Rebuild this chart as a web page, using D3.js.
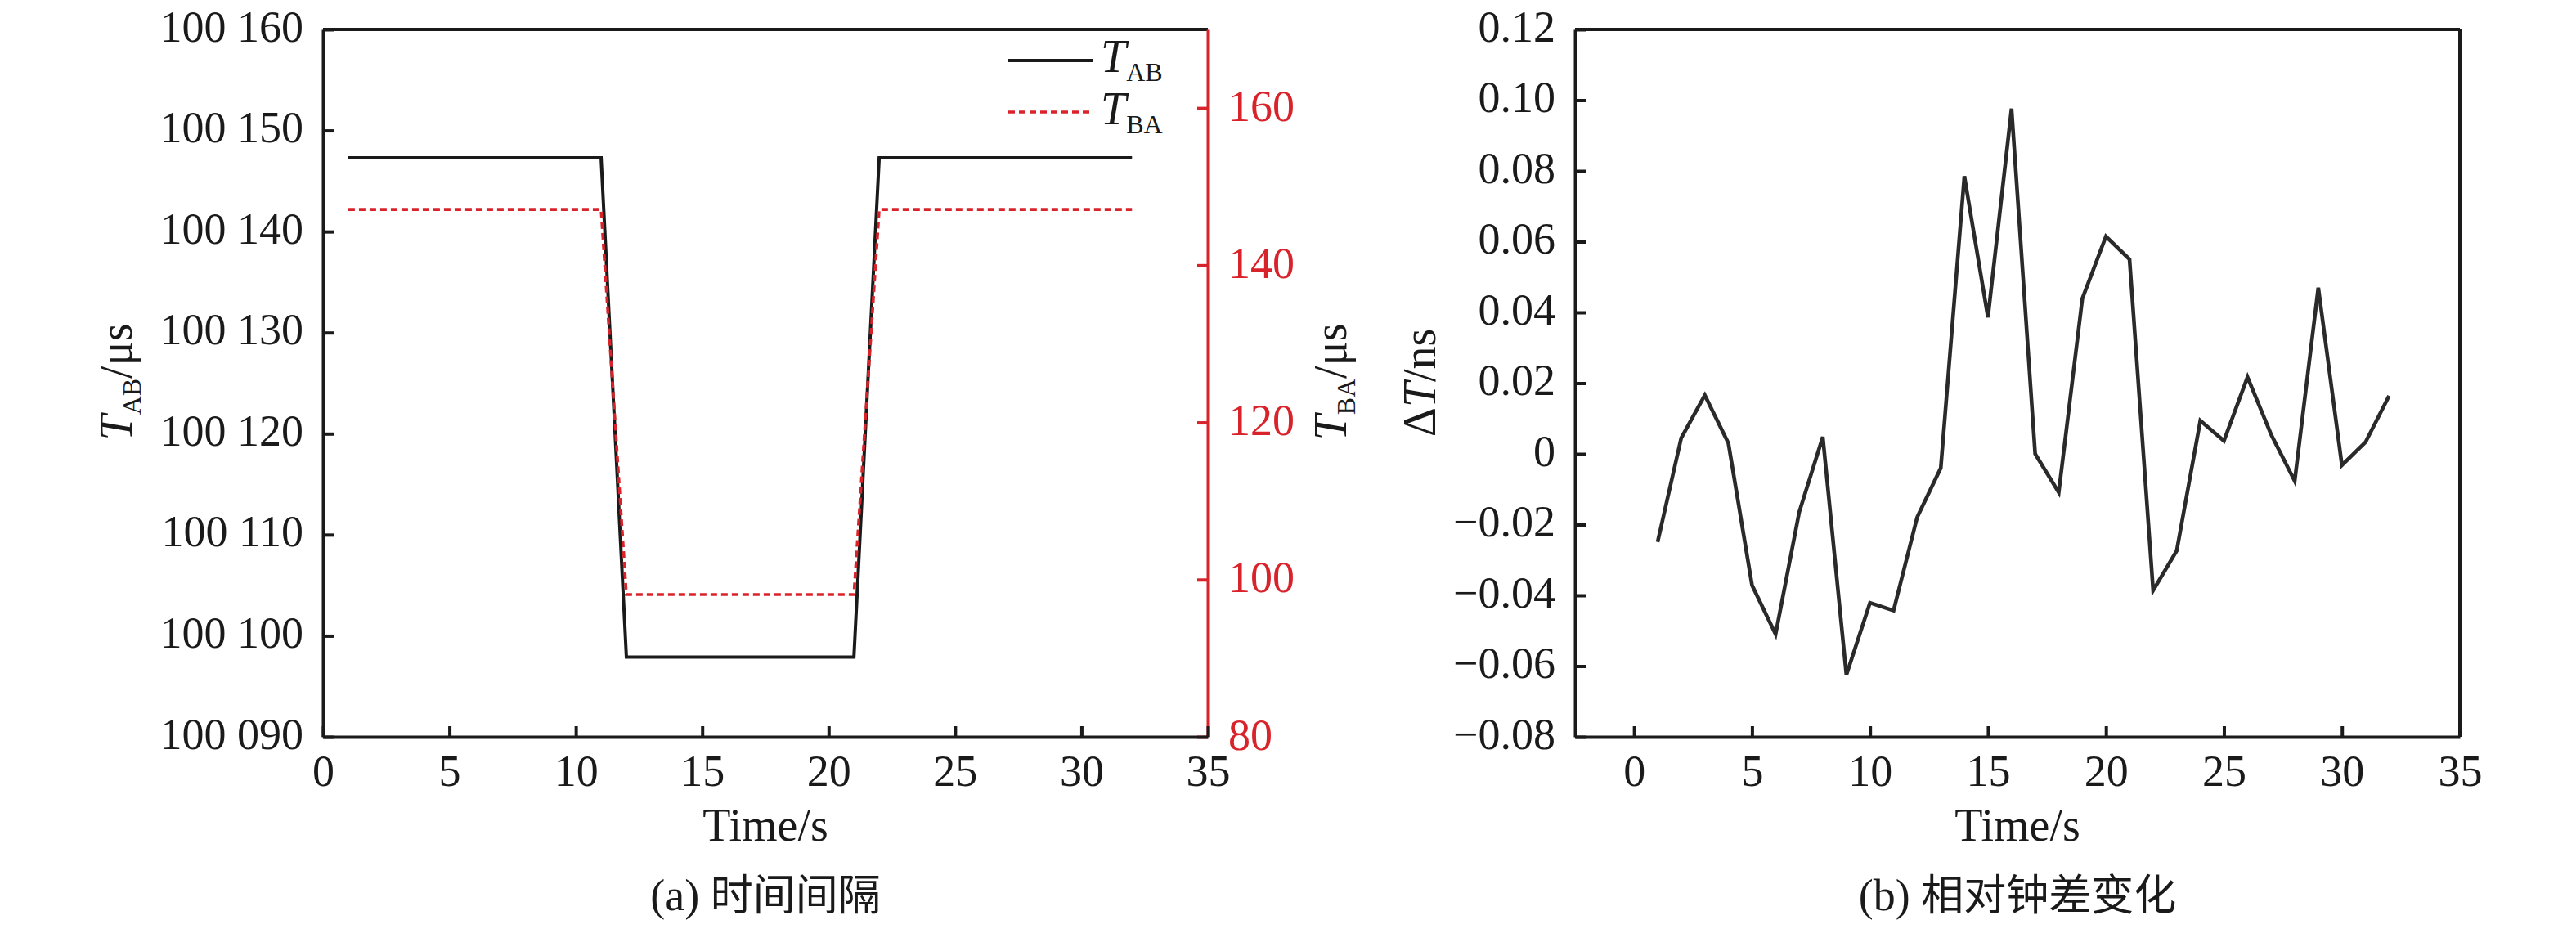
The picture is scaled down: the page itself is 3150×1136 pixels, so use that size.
<!DOCTYPE html>
<html>
<head>
<meta charset="utf-8">
<script src="https://cdn.jsdelivr.net/npm/d3@7"></script>
<style>
  html, body { margin: 0; padding: 0; background: #fff; }
  svg { display: block; }
  text { font-family: "Liberation Serif", "Times New Roman", serif; }
</style>
</head>
<body>
<svg id="chart" width="3150" height="1136"></svg>
<script>
// ---------- DATA ----------
const timeA = [1,2,3,4,5,6,7,8,9,10,11,12,13,14,15,16,17,18,19,20,21,22,23,24,25,26,27,28,29,30,31,32];
const tAB = [100147.3,100147.3,100147.3,100147.3,100147.3,100147.3,100147.3,100147.3,100147.3,100147.3,100147.3,
             100097.9,100097.9,100097.9,100097.9,100097.9,100097.9,100097.9,100097.9,100097.9,100097.9,
             100147.3,100147.3,100147.3,100147.3,100147.3,100147.3,100147.3,100147.3,100147.3,100147.3,100147.3];
const tBA = [147.1,147.1,147.1,147.1,147.1,147.1,147.1,147.1,147.1,147.1,147.1,
             98.1,98.1,98.1,98.1,98.1,98.1,98.1,98.1,98.1,98.1,
             147.1,147.1,147.1,147.1,147.1,147.1,147.1,147.1,147.1,147.1,147.1];
const timeB = [1,2,3,4,5,6,7,8,9,10,11,12,13,14,15,16,17,18,19,20,21,22,23,24,25,26,27,28,29,30,31,32];
const deltaT = [-0.0249,0.0045,0.0166,0.0030,-0.0371,-0.0510,-0.0165,0.0048,-0.0625,-0.0421,-0.0443,
                -0.0179,-0.0040,0.0785,0.0386,0.0976,0.0000,-0.0109,0.0439,0.0615,0.0550,
                -0.0386,-0.0274,0.0094,0.0037,0.0217,0.0055,-0.0077,0.0470,-0.0032,0.0033,0.0164];

const xTicks = [0,5,10,15,20,25,30,35];
const leftYTicks = [100090,100100,100110,100120,100130,100140,100150,100160];
const leftYLabels = ["100 090","100 100","100 110","100 120","100 130","100 140","100 150","100 160"];
const rightYTicks = [80,100,120,140,160];
const bYTicks = [-0.08,-0.06,-0.04,-0.02,0,0.02,0.04,0.06,0.08,0.10,0.12];
const bYLabels = ["\u22120.08","\u22120.06","\u22120.04","\u22120.02","0","0.02","0.04","0.06","0.08","0.10","0.12"];

// ---------- STYLE ----------
const RED = "#d9232b";
const INK = "#1a1a1a";
const FS = 54;
const TICK = 13;
const yTop = 36, yBot = 901;

const svg = d3.select("#chart");
svg.append("rect").attr("width",3150).attr("height",1136).attr("fill","#fff");

function styleAxis(g, color) {
  g.select(".domain").attr("stroke", color).attr("stroke-width", 4);
  g.selectAll(".tick line").attr("stroke", color).attr("stroke-width", 4);
  g.selectAll(".tick text").attr("fill", color).attr("font-size", FS)
    .attr("font-family", '"Liberation Serif", "Times New Roman", serif');
}

// ================= PANEL (a) =================
const ax = d3.scaleLinear().domain([0,35]).range([395,1477]);
const ayL = d3.scaleLinear().domain([100090,100160]).range([yBot, yTop]);
const ayR = d3.scaleLinear().domain([80,170]).range([yBot, yTop]);

// top border
svg.append("line").attr("x1",ax(0)).attr("x2",ax(35)).attr("y1",yTop).attr("y2",yTop)
  .attr("stroke",INK).attr("stroke-width",4);

// right red axis
const gR = svg.append("g").attr("transform",`translate(${ax(35)},0)`)
  .call(d3.axisRight(ayR).tickValues(rightYTicks).tickSize(-TICK).tickSizeOuter(0).tickPadding(25).tickFormat(d3.format("d")));
styleAxis(gR, RED);
gR.selectAll(".tick text").attr("dy","0.28em");

// left axis
const gL = svg.append("g").attr("transform",`translate(${ax(0)},0)`)
  .call(d3.axisLeft(ayL).tickValues(leftYTicks).tickSize(-TICK).tickSizeOuter(0).tickPadding(24)
    .tickFormat((d,i)=>leftYLabels[i]));
styleAxis(gL, INK);
gL.selectAll(".tick text").attr("dy","0.26em");

// bottom axis
const gB = svg.append("g").attr("transform",`translate(0,${yBot})`)
  .call(d3.axisBottom(ax).tickValues(xTicks).tickSize(-TICK).tickSizeOuter(0).tickPadding(22).tickFormat(d3.format("d")));
styleAxis(gB, INK);

// lines
const lineAB = d3.line().x((d,i)=>ax(timeA[i])).y(d=>ayL(d));
const lineBA = d3.line().x((d,i)=>ax(timeA[i])).y(d=>ayR(d));
svg.append("path").datum(tAB).attr("d",lineAB).attr("fill","none")
  .attr("stroke",INK).attr("stroke-width",4);
svg.append("path").datum(tBA).attr("d",lineBA).attr("fill","none")
  .attr("stroke",RED).attr("stroke-width",3.6).attr("stroke-dasharray","8,5");

// legend
function subLabel(parent, x, y, main, sub, anchor) {
  const t = parent.append("text").attr("x",x).attr("y",y).attr("fill",INK)
    .attr("text-anchor", anchor || "start");
  t.append("tspan").attr("font-size",56).attr("font-style","italic").text(main);
  t.append("tspan").attr("font-size",32).attr("dy",11).text(sub);
  return t;
}
svg.append("line").attr("x1",1233).attr("x2",1336).attr("y1",74).attr("y2",74)
  .attr("stroke",INK).attr("stroke-width",4);
subLabel(svg, 1346, 88, "T", "AB");
svg.append("line").attr("x1",1233).attr("x2",1336).attr("y1",137).attr("y2",137)
  .attr("stroke",RED).attr("stroke-width",3.6).attr("stroke-dasharray","8,5");
subLabel(svg, 1346, 152, "T", "BA");

// axis titles
function yTitle(x, y, parts) {
  const t = svg.append("text").attr("transform",`translate(${x},${y}) rotate(-90)`)
    .attr("text-anchor","middle").attr("fill",INK);
  parts.forEach(p => {
    const s = t.append("tspan").attr("font-size",p.fs || 56).text(p.text);
    if (p.italic) s.attr("font-style","italic");
    if (p.dy) s.attr("dy",p.dy);
  });
  return t;
}
yTitle(161, 467, [{text:"T",italic:true},{text:"AB",fs:32,dy:11},{text:"/μs",dy:-11}]);
yTitle(1646, 467, [{text:"T",italic:true},{text:"BA",fs:32,dy:11},{text:"/μs",dy:-11}]);

svg.append("text").attr("x",(ax(0)+ax(35))/2).attr("y",1028).attr("text-anchor","middle")
  .attr("font-size",56).attr("fill",INK).text("Time/s");

function caption(x, label, zh) {
  const t = svg.append("text").attr("x",x).attr("y",1113).attr("text-anchor","middle")
    .attr("font-size",54).attr("fill",INK);
  t.append("tspan").text(label + " ");
  t.append("tspan").attr("font-family",'"Noto Sans CJK SC", sans-serif').attr("font-size",52).text(zh);
}
caption((ax(0)+ax(35))/2, "(a)", "时间间隔");

// ================= PANEL (b) =================
const bx = d3.scaleLinear().domain([-2.5,35]).range([1926,3008]);
const by = d3.scaleLinear().domain([-0.08,0.12]).range([yBot, yTop]);

// box top & right
svg.append("line").attr("x1",bx(-2.5)).attr("x2",bx(35)).attr("y1",yTop).attr("y2",yTop)
  .attr("stroke",INK).attr("stroke-width",4);
svg.append("line").attr("x1",bx(35)).attr("x2",bx(35)).attr("y1",yTop).attr("y2",yBot)
  .attr("stroke",INK).attr("stroke-width",4);

const gBL = svg.append("g").attr("transform",`translate(${bx(-2.5)},0)`)
  .call(d3.axisLeft(by).tickValues(bYTicks).tickSize(-TICK).tickSizeOuter(0).tickPadding(24)
    .tickFormat((d,i)=>bYLabels[i]));
styleAxis(gBL, INK);
gBL.selectAll(".tick text").attr("dy","0.26em");

const gBB = svg.append("g").attr("transform",`translate(0,${yBot})`)
  .call(d3.axisBottom(bx).tickValues(xTicks).tickSize(-TICK).tickSizeOuter(0).tickPadding(22).tickFormat(d3.format("d")));
styleAxis(gBB, INK);

const lineD = d3.line().x((d,i)=>bx(timeB[i])).y(d=>by(d));
svg.append("path").datum(deltaT).attr("d",lineD).attr("fill","none")
  .attr("stroke","#2a2a2a").attr("stroke-width",4.6).attr("stroke-linejoin","miter");

yTitle(1755, 468, [{text:"Δ"},{text:"T",italic:true},{text:"/ns"}]);

svg.append("text").attr("x",(bx(-2.5)+bx(35))/2).attr("y",1028).attr("text-anchor","middle")
  .attr("font-size",56).attr("fill",INK).text("Time/s");
caption((bx(-2.5)+bx(35))/2, "(b)", "相对钟差变化");
</script>
</body>
</html>
